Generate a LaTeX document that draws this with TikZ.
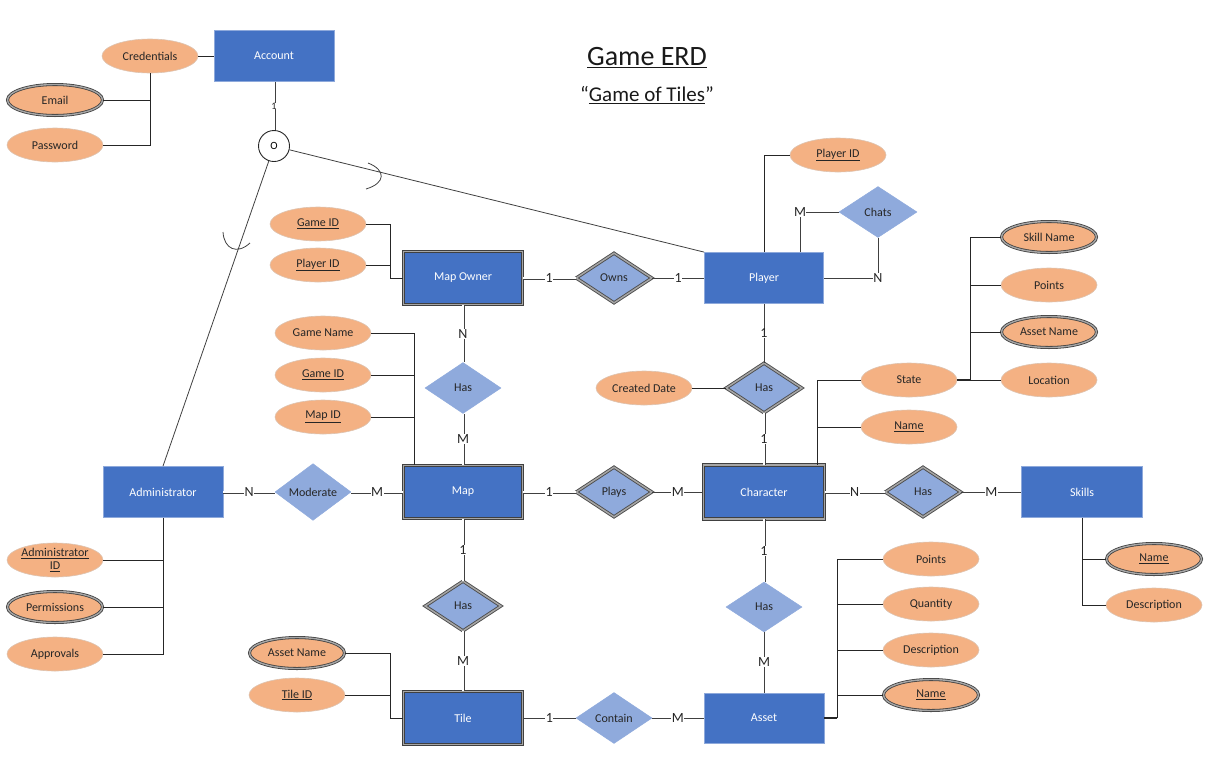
\documentclass[tikz,border=0pt]{standalone}
\usepackage{fontspec}
\setmainfont{Carlito}
\usetikzlibrary{shapes.geometric,calc}
\definecolor{entblue}{HTML}{4472C4}
\definecolor{entedge}{HTML}{8EA9DB}
\definecolor{relblue}{HTML}{8FAADC}
\definecolor{attrorange}{HTML}{F4B183}
\definecolor{attredge}{HTML}{DDC3B0}
\tikzset{
  ent/.style={rectangle, fill=entblue, draw=entedge, line width=0.8pt, text=white,
    minimum width=119pt, minimum height=51pt, inner sep=0pt, font=\fontsize{12}{14}\selectfont},
  went/.style={ent, line width=0.9pt, draw=black!75, double=black!35, double distance=1.5pt,
    minimum width=119pt, minimum height=53pt},
  attr/.style={ellipse, fill=attrorange, draw=attredge, line width=0.6pt, minimum width=96pt,
    minimum height=34pt, inner sep=0pt, text=black!85, font=\fontsize{12}{13}\selectfont},
  mattr/.style={attr, line width=0.8pt, draw=black!75, double=black!35, double distance=1.4pt,
    minimum width=95pt, minimum height=31pt},
  rel/.style={diamond, fill=relblue, draw=relblue, line width=0.5pt, minimum width=77pt,
    minimum height=51pt, inner sep=0pt, text=black!85, font=\fontsize{12}{14}\selectfont},
  wrel/.style={rel, line width=0.9pt, draw=black!70, double=black!35, double distance=1.5pt,
    minimum width=76pt, minimum height=50pt},
  conn/.style={draw=black!75, line width=0.8pt},
  dconn/.style={line width=0.7pt, draw=black!75, double=white, double distance=1.6pt},
  card/.style={fill=white, inner sep=0.5pt, font=\fontsize{14}{14}\selectfont, text=black!85},
  aline/.style={draw=black!85, line width=0.9pt},
}
\begin{document}
\begin{tikzpicture}[x=1pt,y=-1pt]
\useasboundingbox (0,0) rectangle (1225,756);

% title
\node[font=\fontsize{28}{30}\selectfont, text=black!90] (title) at (647,58) {\underline{Game ERD}};
\node[font=\fontsize{21}{24}\selectfont, text=black!90] (sub) at (647,95) {“\underline{Game of Tiles}”};

% account
\node[ent, minimum width=120pt] (account) at (274,56) {Account};
\node[attr] (cred) at (150,56) {Credentials};
\node[mattr] (email) at (55,100) {Email};
\node[attr] (pass) at (55,145) {Password};
\draw[aline] (cred) -- (account);
\draw[aline] (cred.south) |- (pass.east);
\draw[aline] (email.east) -- (email.east -| cred.south);

\node[circle, draw=black!85, fill=white, line width=0.9pt, minimum size=31pt, inner sep=0pt,
  font=\fontsize{11}{11}\selectfont] (o) at (274,146) {O};
\draw[dconn] (account) -- node[card, font=\fontsize{10}{10}\selectfont, inner sep=0.2pt]{1} (o);

% player
\node[ent] (player) at (764,278) {Player};
\node[attr] (pid) at (838,155) {\underline{Player ID}};
\node[rel, minimum width=78pt] (chats) at (878,212) {Chats};
\draw[aline] (pid.west) -| (player.north);
\draw[conn] (chats.west) -| node[card]{M} ([xshift=36pt]player.north);
\draw[conn] (chats.south) |- node[card]{N} (player.east);

% admin
\node[ent, minimum width=120pt] (admin) at (163,492) {Administrator};
\node[attr, align=center, font=\fontsize{12}{12.5}\selectfont] (adid) at (55,560) {\underline{Administrator}\\\underline{ID}};
\node[mattr] (perm) at (55,607) {Permissions};
\node[attr] (appr) at (55,654) {Approvals};
\draw[aline] (admin.south) |- (appr.east);
\draw[aline] (adid.east) -- (adid.east -| admin.south);
\draw[aline] (perm.east) -- (perm.east -| admin.south);

% subset lines
\draw[conn] (o) -- (admin.north);
\draw[conn] (o) -- (player.north west);
\draw[conn] (368,163) .. controls (386,170) and (386,183) .. (366,189);
\draw[conn] (223,232) .. controls (224,249) and (237,255) .. (250,243);

% map owner
\node[went] (mo) at (463,278) {Map Owner};
\node[attr] (mogid) at (318,224) {\underline{Game ID}};
\node[attr] (mopid) at (318,265) {\underline{Player ID}};
\coordinate (moj) at (390,278);
\draw[aline] (mogid.east) -| (moj) -- (mo.west);
\draw[aline] (mopid.east) -- (mopid.east -| moj);

\node[wrel] (owns) at (614,278) {Owns};
\draw[dconn] (mo) -- node[card]{1} (owns);
\draw[conn] (owns) -- node[card]{1} (player);

% map
\node[rel, minimum width=76pt] (hasm) at (463,388) {Has};
\node[went, minimum width=119pt] (map) at (463,492) {Map};
\draw[dconn] (mo) -- node[card]{N} (hasm);
\draw[dconn] (hasm) -- node[card]{M} (map);
\node[attr] (gname) at (323,333) {Game Name};
\node[attr] (gid) at (323,375) {\underline{Game ID}};
\node[attr] (mid) at (323,417) {\underline{Map ID}};
\coordinate (mapj) at ([xshift=11pt]map.north west);
\draw[aline] (gname.east) -| (mapj);
\draw[aline] (gid.east) -- (gid.east -| mapj);
\draw[aline] (mid.east) -- (mid.east -| mapj);

\node[rel, minimum width=76pt] (moderate) at (313,492) {Moderate};
\draw[dconn] (admin) -- node[card]{N} (moderate);
\draw[dconn] (moderate) -- node[card]{M} (map);

% character
\node[wrel] (hasc) at (764,388) {Has};
\node[attr] (cdate) at (644,388) {Created Date};
\node[went, minimum width=121pt, minimum height=54pt] (char) at (764,492) {Character};
\draw[conn] (player) -- node[card]{1} (hasc);
\draw[dconn] (hasc) -- node[card]{1} (char);
\draw[aline] (cdate) -- (hasc);

\node[wrel] (plays) at (614,492) {Plays};
\draw[dconn] (map) -- node[card]{1} (plays);
\draw[conn] (plays) -- node[card]{M} (char);

\node[attr] (state) at (909,380) {State};
\node[attr] (cname) at (909,427) {\underline{Name}};
\coordinate (charj) at ([xshift=-8pt]char.north east);
\draw[aline] (charj) |- (state.west);
\draw[aline] (cname.west) -- (cname.west -| charj);

\node[mattr] (skname) at (1049,237) {Skill Name};
\node[attr] (spts) at (1049,285) {Points};
\node[mattr] (sasname) at (1049,332) {Asset Name};
\node[attr] (sloc) at (1049,380) {Location};
\coordinate (statej) at (970,380);
\draw[aline, line width=1.6pt] (state.east) -- (statej);
\draw[aline] (sloc.west) -- (statej) |- (skname.west);
\draw[aline] (spts.west) -- (spts.west -| statej);
\draw[aline] (sasname.west) -- (sasname.west -| statej);

% skills
\node[wrel] (hass) at (923,492) {Has};
\node[ent, minimum width=121pt] (skills) at (1082,492) {Skills};
\draw[dconn] (char) -- node[card]{N} (hass);
\draw[conn] (hass) -- node[card]{M} (skills);
\node[mattr] (sn) at (1154,559) {\underline{Name}};
\node[attr] (sdesc) at (1154,605) {Description};
\draw[aline] (skills.south) |- (sdesc.west);
\draw[aline] (sn.west) -- (sn.west -| skills.south);

% tile
\node[wrel] (hast) at (463,606) {Has};
\node[went] (tile) at (463,718) {Tile};
\draw[dconn] (map) -- node[card]{1} (hast);
\draw[dconn] (hast) -- node[card]{M} (tile);
\node[mattr] (tan) at (297,653) {Asset Name};
\node[attr] (tid) at (297,695) {\underline{Tile ID}};
\coordinate (tilej) at (390,718);
\draw[aline] (tan.east) -| (tilej) -- (tile.west);
\draw[aline] (tid.east) -- (tid.east -| tilej);

% asset
\node[rel, minimum width=76pt] (contain) at (614,718) {Contain};
\node[ent, minimum width=120pt, minimum height=50pt] (asset) at (764,718) {Asset};
\draw[conn] (tile) -- node[card]{1} (contain);
\draw[conn] (contain) -- node[card]{M} (asset);
\node[rel, minimum width=76pt, minimum height=50pt] (hasa) at (764,607) {Has};
\draw[dconn] (char) -- node[card]{1} (hasa);
\draw[conn] (hasa) -- node[card]{M} (asset);

\node[attr] (apts) at (931,559) {Points};
\node[attr] (aqty) at (931,604) {Quantity};
\node[attr] (adesc) at (931,650) {Description};
\node[mattr] (aname) at (931,695) {\underline{Name}};
\coordinate (assetj) at (837,718);
\draw[aline, line width=1.6pt] (asset.east) -- (assetj);
\draw[aline] (assetj) |- (apts.west);
\draw[aline] (aqty.west) -- (aqty.west -| assetj);
\draw[aline] (adesc.west) -- (adesc.west -| assetj);
\draw[aline] (aname.west) -- (aname.west -| assetj);
\end{tikzpicture}
\end{document}
